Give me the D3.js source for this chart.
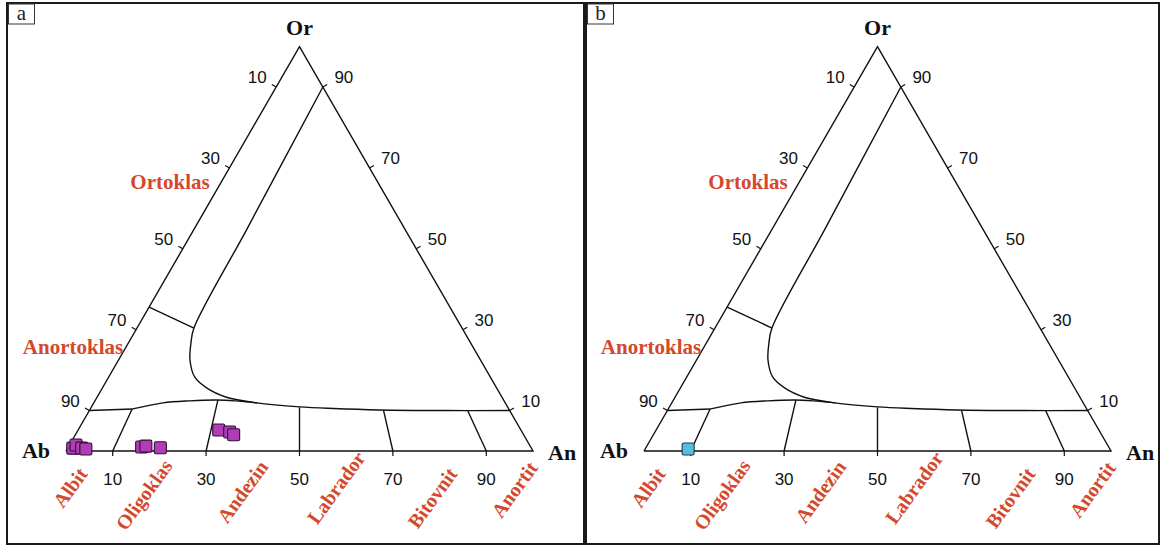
<!DOCTYPE html>
<html>
<head>
<meta charset="utf-8">
<script src="https://cdn.jsdelivr.net/npm/d3@7"></script>
<style>
  body { margin: 0; background: #fff; }
  svg { display: block; }
</style>
</head>
<body>
<svg id="chart" width="1163" height="547"></svg>
<script>
// Feldspar ternary diagram Ab – Or – An. Compositions are [An %, Or %]; Ab is the remainder.
const panelIds = ["a", "b"];
const tickValues = [10, 30, 50, 70, 90];
const apexLabels = ["Ab", "Or", "An"];
const plagioclaseNames = ["Albit", "Oligoklas", "Andezin", "Labrador", "Bitovnit", "Anortit"];
const alkaliNames = ["Ortoklas", "Anortoklas"];

// miscibility gap boundary (main curve from the Or–An edge round to the An corner side)
const solvusMain = [[10, 90], [11.3, 55], [12.2, 30.4], [13.4, 26.7], [15.3, 22.5], [18.4, 18.3],
  [22.3, 15.6], [27.7, 13.3], [34.9, 11.9], [44.6, 10.9], [52, 10.5], [62, 10.15], [76, 10.0], [90, 10.0]];
// lower boundary of the alkali-feldspar field near Ab
const solvusLowerStraight = [[0, 10], [9.1, 10.4]];
const solvusLower = [[9.1, 10.4], [14.8, 11.9], [20.3, 12.4], [26, 12.6], [30, 12.4], [35, 11.9]];
// orthoclase – anorthoclase divider
const anorthoclaseTie = [[0, 35.6], [12.2, 30.4]];
// plagioclase dividers, An/(An+Ab) %, and the Or % where each one stops
const plagDividers = [10, 30, 50, 70, 90];
const dividerTops = [10.4, 12.6, 10.8, 10.1, 10.0];

// analysed feldspars
const samplesA = [[1.1, 0.7], [1.4, 1.5], [3.0, 0.7], [4.0, 0.5],
  [15.7, 1.0], [16.5, 1.2], [19.8, 0.8],
  [30.1, 5.2], [32.7, 4.7], [33.9, 4.0]];
const samplesB = [[9.2, 0.5]];
const sampleSets = [samplesA, samplesB];
const sampleFill = ["#b03cb8", "#55bde2"];
const sampleStroke = ["#2e0f33", "#2a3a44"];

const svg = d3.select("#chart");
svg.append("rect").attr("width", 1163).attr("height", 547).attr("fill", "#fff");

const frames = [{ x: 7, y: 3, w: 577, h: 541 }, { x: 586, y: 3, w: 573, h: 541 }];
const origins = [66, 644];
const side = 467;
const base = 451;
const labelRed = "#d4482c";

panelIds.forEach((id, i) => {
  const f = frames[i];
  const g = svg.append("g");

  g.append("rect").attr("x", f.x).attr("y", f.y).attr("width", f.w).attr("height", f.h)
    .attr("fill", "none").attr("stroke", "#1a1a1a").attr("stroke-width", 2);
  g.append("rect").attr("x", f.x + 1.5).attr("y", f.y + 1).attr("width", 26).attr("height", 20)
    .attr("fill", "#fff").attr("stroke", "#333").attr("stroke-width", 1);
  g.append("text").attr("x", f.x + 14.5).attr("y", f.y + 17).attr("text-anchor", "middle")
    .attr("font-family", "Liberation Serif, serif").attr("font-size", 21).attr("fill", "#222").text(id);

  // ternary -> screen through two linear scales
  const xs = d3.scaleLinear().domain([0, 100]).range([origins[i], origins[i] + side]);
  const ys = d3.scaleLinear().domain([0, 100]).range([base, base - side * Math.sqrt(3) / 2]);
  const px = d => xs(d[0] + d[1] / 2);
  const py = d => ys(d[1]);
  const line = d3.line().x(px).y(py);
  const smooth = d3.line().x(px).y(py).curve(d3.curveCatmullRom.alpha(0.5));

  const ink = { fill: "none", stroke: "#111", "stroke-width": 1.4 };
  const addPath = (gen, data) => {
    const p = g.append("path").attr("d", gen(data));
    Object.entries(ink).forEach(([k, v]) => p.attr(k, v));
  };

  // triangle
  addPath(line, [[0, 0], [100, 0], [0, 100], [0, 0]]);

  // field boundaries
  addPath(smooth, solvusMain);
  addPath(line, solvusLowerStraight);
  addPath(smooth, solvusLower);
  addPath(line, anorthoclaseTie);
  plagDividers.forEach((r, k) => {
    const o = dividerTops[k];
    addPath(line, [[r, 0], [r * (100 - o) / 100, o]]);
  });

  // ticks and tick labels
  const tickLen = 5;
  const numFont = "Liberation Sans, Arial, sans-serif";
  const numSize = 17;
  tickValues.forEach(v => {
    // left edge: Ab %
    const L = [0, 100 - v];
    g.append("line").attr("x1", px(L)).attr("y1", py(L))
      .attr("x2", px(L) - tickLen * 0.866).attr("y2", py(L) - tickLen * 0.5)
      .attr("stroke", "#111").attr("stroke-width", 1.2);
    g.append("text").attr("x", px(L) - 19).attr("y", py(L) - 4)
      .attr("text-anchor", "middle").attr("font-family", numFont).attr("font-size", numSize)
      .attr("fill", "#111").text(v);
    // right edge: Or %
    const R = [100 - v, v];
    g.append("line").attr("x1", px(R)).attr("y1", py(R))
      .attr("x2", px(R) + tickLen * 0.866).attr("y2", py(R) - tickLen * 0.5)
      .attr("stroke", "#111").attr("stroke-width", 1.2);
    g.append("text").attr("x", px(R) + 21).attr("y", py(R) - 4)
      .attr("text-anchor", "middle").attr("font-family", numFont).attr("font-size", numSize)
      .attr("fill", "#111").text(v);
    // base: An %
    const B = [v, 0];
    g.append("line").attr("x1", px(B)).attr("y1", py(B))
      .attr("x2", px(B)).attr("y2", py(B) + tickLen)
      .attr("stroke", "#111").attr("stroke-width", 1.2);
    g.append("text").attr("x", px(B)).attr("y", py(B) + 34)
      .attr("text-anchor", "middle").attr("font-family", numFont).attr("font-size", numSize)
      .attr("fill", "#111").text(v);
  });

  // apex labels
  const serifBold = { "font-family": "Liberation Serif, Times New Roman, serif", "font-weight": "bold" };
  const apexPos = [
    { d: [0, 0], dx: -16, dy: 7, anchor: "end" },
    { d: [0, 100], dx: 0, dy: -12, anchor: "middle" },
    { d: [100, 0], dx: 15, dy: 9, anchor: "start" }
  ];
  apexLabels.forEach((t, k) => {
    const a = apexPos[k];
    const tx = g.append("text").attr("x", px(a.d) + a.dx).attr("y", py(a.d) + a.dy)
      .attr("text-anchor", a.anchor).attr("font-size", 22).attr("fill", "#111").text(t);
    Object.entries(serifBold).forEach(([kk, vv]) => tx.attr(kk, vv));
  });

  // alkali feldspar field names
  const alkPos = [{ x: 104, y: 189 }, { x: 7, y: 354 }];
  alkaliNames.forEach((t, k) => {
    const tx = g.append("text").attr("x", xs(0) + alkPos[k].x).attr("y", alkPos[k].y)
      .attr("text-anchor", "middle").attr("font-size", 21).attr("fill", labelRed).text(t);
    Object.entries(serifBold).forEach(([kk, vv]) => tx.attr(kk, vv));
  });

  // plagioclase names, rotated below the base
  const plagAt = [4.8, 23, 43.5, 64.3, 84, 101.2];
  const plagDy = [23, 15, 16, 7, 23, 17];
  plagioclaseNames.forEach((t, k) => {
    const x = xs(plagAt[k]);
    const y = base + plagDy[k];
    const tx = g.append("text").attr("transform", `translate(${x},${y}) rotate(-54)`)
      .attr("text-anchor", "end").attr("font-size", 20).attr("fill", labelRed).text(t);
    Object.entries(serifBold).forEach(([kk, vv]) => tx.attr(kk, vv));
  });

  // samples
  const s = 12;
  g.selectAll("rect.sample").data(sampleSets[i]).enter().append("rect")
    .attr("class", "sample")
    .attr("x", d => px(d) - s / 2).attr("y", d => py(d) - s / 2)
    .attr("width", s).attr("height", s).attr("rx", 1.5)
    .attr("fill", sampleFill[i]).attr("stroke", sampleStroke[i]).attr("stroke-width", 1.1);
});
</script>
</body>
</html>
